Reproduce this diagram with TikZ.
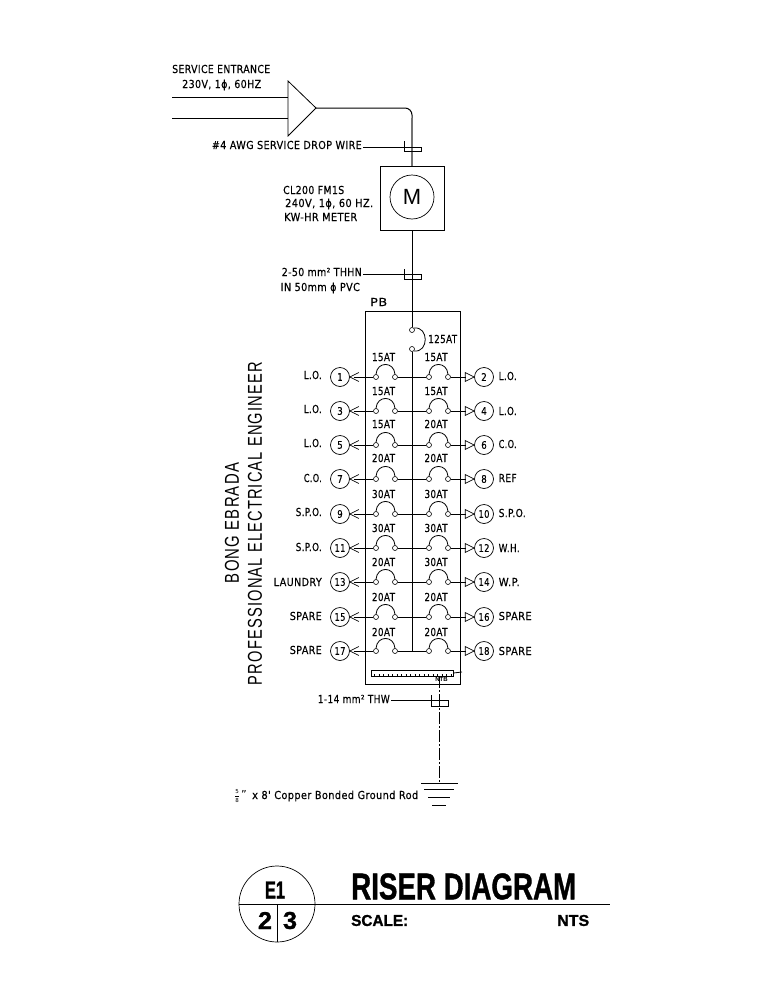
\documentclass[tikz,border=0pt]{standalone}
\usepackage{fontspec}
\usepackage{graphicx}
\setmainfont{DejaVu Sans}
\newfontfamily\labf[LetterSpace=4,FakeBold=0.35]{DejaVu Sans}
\newfontfamily\sansf{Liberation Sans}
\newfontfamily\bigf[LetterSpace=8]{Liberation Sans}
\newfontfamily\heavyf[BoldFeatures={FakeBold=1.2}]{Liberation Sans}
\newlength{\fitlen}
\newcommand{\fitw}[2]{\settowidth{\fitlen}{\labf #2}\pgfmathsetmacro{\myratio}{#1/\fitlen}\scalebox{\myratio}[1]{\labf #2}}
\newcommand{\numtxt}[1]{\ifnum#1<10 \fitw{5.5}{#1}\else\fitw{11}{#1}\fi}
\begin{document}
\begin{tikzpicture}[x=1pt,y=-1pt,line cap=butt,
  wire/.style={draw=black,line width=1pt},
  thin wire/.style={draw=black,line width=0.8pt},
  txt/.style={inner sep=0pt,font=\fontsize{11}{11}\selectfont,text=black,yshift=-4pt},
  ltxt/.style={txt,anchor=base west},
  rtxt/.style={txt,anchor=base east},
  amp/.style={txt,anchor=base},
  num/.style={circle,draw=black,line width=0.7pt,minimum size=19pt,inner sep=0pt,font=\fontsize{10.5}{10.5}\selectfont},
  term/.style={circle,draw=black,line width=0.6pt,minimum size=5pt,inner sep=0pt,fill=white},
  tip/.style={draw=black,line width=0.7pt},
  ttl/.style={inner sep=0pt,font=\heavyf\bfseries}
]
\useasboundingbox (0,0) rectangle (768,993);
\fill[white] (0,0) rectangle (768,993);

% service entrance
\node[ltxt] at (172,69) {\fitw{98}{SERVICE ENTRANCE}};
\node[ltxt] at (182,84) {\fitw{79}{230V, 1ϕ, 60HZ}};
\coordinate (sa) at (172,97);
\coordinate (sb) at (172,118);
\coordinate (ta) at (288,97);
\coordinate (tb) at (288,118);
\coordinate (tip) at (316,108);
\coordinate (bend) at (412,118);
\draw[wire] (sa) -- (ta);
\draw[wire] (sb) -- (tb);
\draw[thin wire] (288,81) -- (tip) -- (288,136) -- cycle;

% meter
\node[draw=black,line width=1pt,minimum size=64pt,inner sep=0pt] (meter) at (412,198) {};
\node[circle,draw=black,line width=0.7pt,minimum size=44pt,inner sep=0pt,font=\sansf\fontsize{22}{22}\selectfont] (mcirc) at (412,197) {M};
\draw[wire,rounded corners=7pt] (tip) -- (412,108) -- (bend);
\draw[draw=black!55,line width=1.2pt] (bend) -- (meter.north);
\node[ltxt] at (283,190) {\fitw{61}{CL200 FM1S}};
\node[ltxt] at (285,203) {\fitw{88}{240V, 1ϕ, 60 HZ.}};
\node[ltxt] at (284,217) {\fitw{73}{KW-HR METER}};

% service drop tag
\node[rtxt] (drop) at (362,145) {\fitw{150}{\#4 AWG SERVICE DROP WIRE}};
\coordinate (dt) at (404,147);
\draw[thin wire] (363,147) -- (dt);
\draw[thin wire] (404,141) -- (404,151) -- (421,151) -- (421,147) -- (dt);

% panel
\node[draw=black,line width=1pt,minimum width=95pt,minimum height=373pt,inner sep=0pt] (pb) at (412.5,497.5) {};
\node[ltxt] at (370,302) {\fitw{17}{PB}};
\draw[wire] (meter.south) -- (412,327);

% feeder tag
\node[rtxt] (fd) at (362,272) {\fitw{80}{2-50 mm² THHN}};
\node[rtxt] at (360,287) {\fitw{79}{IN 50mm ϕ PVC}};
\coordinate (ft) at (404,274);
\draw[thin wire] (363,274) -- (ft);
\draw[thin wire] (404,269) -- (404,279) -- (421,279) -- (421,274) -- (ft);

% main breaker
\node[term] (m1) at (412,330) {};
\node[term] (m2) at (412,349) {};
\draw[thin wire] (m1.north east) .. controls (429,326) and (429,353) .. (m2.south east);
\node[ltxt] at (428,339) {\fitw{29}{125AT}};
\draw[wire] (m2) -- (412,651);

% branches
\foreach \yy/\nl/\tl/\wl/\yl/\al/\nr/\tr/\wr/\ar/\ya/\yr in {
 377/1/L.O./18/375/15AT/2/L.O./18/15AT/357/376,
 411/3/L.O./18/409/15AT/4/L.O./18/15AT/391/411,
 445/5/L.O./18/443/15AT/6/C.O./18/20AT/424/444,
 479/7/C.O./18/478/20AT/8/REF/18/20AT/458/478,
 514/9/S.P.O./26/512/30AT/10/S.P.O./27/30AT/494/513,
 548/11/S.P.O./26/547/30AT/12/W.H./21/30AT/528/548,
 582/13/LAUNDRY/48/582/20AT/14/W.P./21/30AT/562/582,
 617/15/SPARE/32/616/20AT/16/SPARE/33/20AT/597/616,
 651/17/SPARE/32/650/20AT/18/SPARE/33/20AT/632/651}{
  \node[num] (cl\nl) at (340,\yy) {\numtxt{\nl}};
  \node[num] (cr\nr) at (484,\yy) {\numtxt{\nr}};
  \node[term] (la\nl) at (376,\yy) {};
  \node[term] (lb\nl) at (395,\yy) {};
  \node[term] (ra\nr) at (429,\yy) {};
  \node[term] (rb\nr) at (448,\yy) {};
  \draw[tip] (cl\nl.east) ++(9,-4.5) -- (cl\nl.east) -- ++(9,4.5);
  \draw[tip] (cr\nr.west) -- ++(-9,-4.5) -- ++(0,9) -- cycle;
  \draw[wire] (cl\nl.east) ++(4,0) -- (la\nl);
  \draw[wire] (lb\nl) -- (ra\nr);
  \draw[wire] (rb\nr) -- ++(18,0);
  \draw[thin wire] (la\nl.north) .. controls ++(1,-13) and ++(-1,-13) .. (lb\nl.north);
  \draw[thin wire] (ra\nr.north) .. controls ++(1,-13) and ++(-1,-13) .. (rb\nr.north);
  \node[rtxt] at (322,\yl) {\fitw{\wl}{\tl}};
  \node[ltxt] at (498.5,\yr) {\fitw{\wr}{\tr}};
  \node[amp] at (383.5,\ya) {\fitw{23}{\al}};
  \node[amp] at (436,\ya) {\fitw{23}{\ar}};
}

% neutral bar
\node[draw=black,line width=0.7pt,minimum width=82pt,minimum height=6pt,inner sep=0pt] (nb) at (412,673) {};
\draw[black,line width=2pt,dash pattern=on 1pt off 3.5pt] (374,675) -- (451,675);
\draw[thin wire] (nb.east) -- (462,672);
\node[inner sep=0pt,font=\sansf\bfseries\fontsize{6}{6}\selectfont] at (441.5,679.5) {NTB};

% ground
\node[rtxt] (gw) at (390,699) {\fitw{72}{1-14 mm² THW}};
\coordinate (gt) at (431,700);
\draw[thin wire] (391,700) -- (gt);
\draw[thin wire] (431,695) -- (431,706) -- (448,706) -- (448,700) -- (gt);
\coordinate (g0) at (439.5,676);
\coordinate (g1) at (439.5,783);
\draw[thin wire,dash pattern=on 12pt off 2pt on 2pt off 2pt] (g0) -- (g1);
\draw[wire] (421,783) -- (458,783);
\draw[wire] (424,789) -- (454,789);
\draw[wire] (428,797) -- (450,797);
\draw[wire] (432,805) -- (446,805);
\node[inner sep=0pt,font=\fontsize{5.5}{5}\selectfont] at (237,792) {5};
\node[inner sep=0pt,font=\fontsize{5.5}{5}\selectfont] at (237,800) {8};
\draw[line width=0.5pt] (235,796) -- (239,796);
\node[ltxt] at (241,794) {"};
\node[ltxt] at (252,795) {\fitw{166}{x 8' Copper Bonded Ground Rod}};

% vertical name
\node[inner sep=0pt,rotate=90] at (232,523) {\resizebox{120pt}{14pt}{\bigf BONG EBRADA}};
\node[inner sep=0pt,rotate=90] at (255,523.5) {\resizebox{323pt}{14pt}{\bigf PROFESSIONAL ELECTRICAL ENGINEER}};

% title block
\node[circle,draw=black,line width=0.7pt,minimum size=76pt,inner sep=0pt] (tc) at (277,904) {};
\coordinate (tr) at (610,904);
\draw[thin wire] (tc.west) -- (tr);
\draw[thin wire] (tc.center) -- (tc.south);
\node[ttl] at (275,890) {\resizebox{20pt}{17pt}{E1}};
\node[ttl] at (265,920.5) {\resizebox{14pt}{17pt}{2}};
\node[ttl] at (290,920.5) {\resizebox{14pt}{17pt}{3}};
\node[ttl,anchor=west] at (351,886.5) {\resizebox{225pt}{26pt}{RISER DIAGRAM}};
\node[ttl,anchor=west] at (351,920.5) {\resizebox{57pt}{11pt}{SCALE:}};
\node[ttl,anchor=west] at (557,920.5) {\resizebox{32pt}{11pt}{NTS}};
\end{tikzpicture}
\end{document}
